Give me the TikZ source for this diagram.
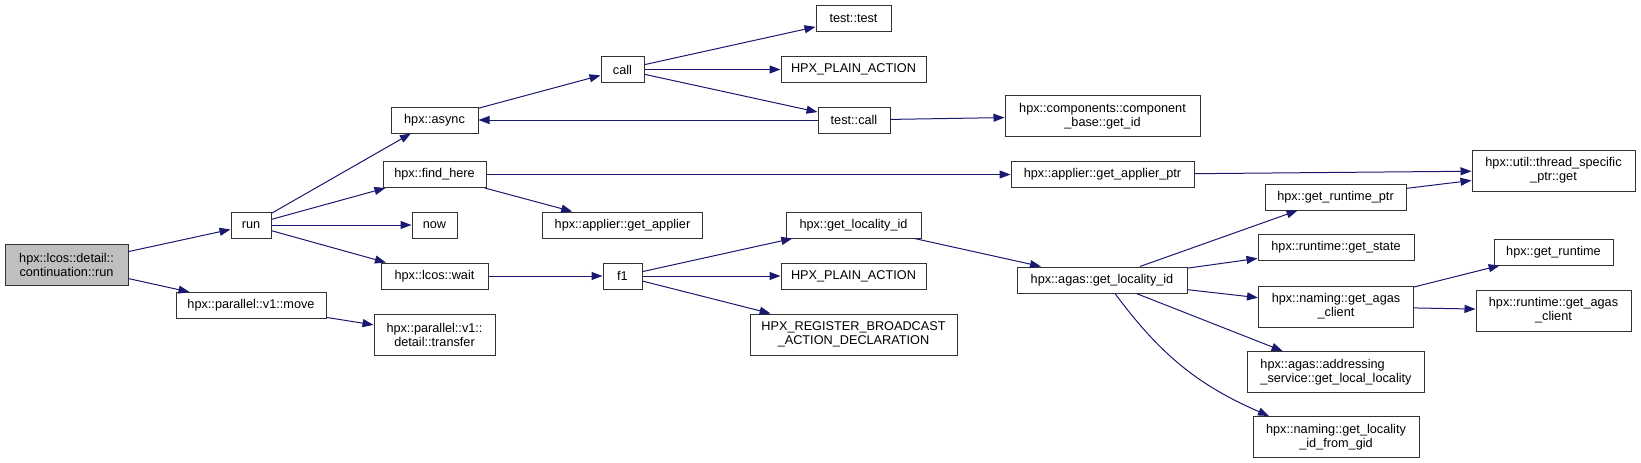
\documentclass[tikz,border=0pt]{standalone}
\usepackage{fontspec}
\setmainfont{Liberation Sans}
\usetikzlibrary{arrows.meta}
\definecolor{DoxEdge}{HTML}{191970}
\definecolor{DoxGray}{HTML}{BFBFBF}
\definecolor{DoxLine}{HTML}{333333}

\begin{document}
\begin{tikzpicture}[x=1pt,y=-1pt,>={Triangle[length=11pt,width=8pt]}]
  \tikzstyle{func}=[draw=DoxLine,line width=1pt,fill=white,inner sep=0pt,
    minimum height=26pt,align=center,font=\fontsize{12.7}{14}\selectfont]
  \tikzstyle{func2}=[func,minimum height=41pt]
  \tikzstyle{callarrow}=[->,color=DoxEdge,line width=1pt]
  \useasboundingbox (0,0) rectangle (1641,463);
  % caller and first level
  \node[func2,fill=DoxGray,minimum width=123pt] (cont) at (66.5,265) {hpx::lcos::detail::\\continuation::run};
  \node[func,minimum width=40pt] (run) at (251,225) {run};
  \node[func,minimum width=150pt] (move) at (251,305.5) {hpx::parallel::v1::move};
  \node[func,minimum width=87pt] (async) at (434.5,120) {hpx::async};
  \node[func,minimum width=103pt] (here) at (434.5,174.5) {hpx::find\_here};
  \node[func,minimum width=45pt] (now) at (434.5,225) {now};
  \node[func,minimum width=107pt] (wait) at (434.5,276) {hpx::lcos::wait};
  \node[func2,minimum width=121pt] (transfer) at (434.5,334.5) {hpx::parallel::v1::\\detail::transfer};
  % middle columns
  \node[func,minimum width=43pt] (call) at (622.5,69.5) {call};
  \node[func,minimum width=160pt] (applier) at (622.5,225) {hpx::applier::get\_applier};
  \node[func,minimum width=39pt] (f1) at (622.5,276) {f1};
  \node[func,minimum width=75pt] (ttest) at (853.5,18.5) {test::test};
  \node[func,minimum width=145pt] (plainA) at (853.5,69.5) {HPX\_PLAIN\_ACTION};
  \node[func,minimum width=72pt] (tcall) at (854,120) {test::call};
  \node[func,minimum width=135pt] (locid) at (853.5,225) {hpx::get\_locality\_id};
  \node[func,minimum width=145pt] (plainB) at (853.5,276) {HPX\_PLAIN\_ACTION};
  \node[func2,minimum width=207pt] (bcast) at (853.5,334.5) {HPX\_REGISTER\_BROADCAST\\\_ACTION\_DECLARATION};
  \node[func2,minimum width=195pt] (getid) at (1102.5,116) {hpx::components::component\\\_base::get\_id};
  \node[func,minimum width=183pt] (applierptr) at (1102.5,174.5) {hpx::applier::get\_applier\_ptr};
  \node[func,minimum width=170pt] (agasloc) at (1102,280) {hpx::agas::get\_locality\_id};
  % right columns
  \node[func,minimum width=141pt] (rtptr) at (1335.5,197) {hpx::get\_runtime\_ptr};
  \node[func,minimum width=156pt] (state) at (1336,247.5) {hpx::runtime::get\_state};
  \node[func2,minimum width=155pt] (agasclient) at (1336,306.5) {hpx::naming::get\_agas\\\_client};
  \node[func2,minimum width=177pt,align=left] (localloc) at (1336,372) {hpx::agas::addressing\\\_service::get\_local\_locality};
  \node[func2,minimum width=166pt] (fromgid) at (1336,437) {hpx::naming::get\_locality\\\_id\_from\_gid};
  \node[func2,minimum width=163pt] (tsptr) at (1553.5,170.5) {hpx::util::thread\_specific\\\_ptr::get};
  \node[func,minimum width=119pt] (runtime) at (1553.5,252) {hpx::get\_runtime};
  \node[func2,minimum width=155pt] (rtclient) at (1553.5,310.5) {hpx::runtime::get\_agas\\\_client};
  % calls
  \draw[callarrow] (cont) -- (run);
  \draw[callarrow] (cont) -- (move);
  \draw[callarrow] (run) -- (async);
  \draw[callarrow] (run) -- (here);
  \draw[callarrow] (run) -- (now);
  \draw[callarrow] (run) -- (wait);
  \draw[callarrow] (move) -- (transfer);
  \draw[callarrow] (async) -- (call);
  \draw[callarrow] (here) -- (applierptr);
  \draw[callarrow] (here) -- (applier);
  \draw[callarrow] (wait) -- (f1);
  \draw[callarrow] (call) -- (ttest);
  \draw[callarrow] (call) -- (plainA);
  \draw[callarrow] (call) -- (tcall);
  \draw[callarrow] (tcall) -- (async);
  \draw[callarrow] (tcall) -- (getid);
  \draw[callarrow] (f1) -- (locid);
  \draw[callarrow] (f1) -- (plainB);
  \draw[callarrow] (f1) -- (bcast);
  \draw[callarrow] (locid) -- (agasloc);
  \draw[callarrow] (applierptr) -- (tsptr);
  \draw[callarrow] (rtptr) -- (tsptr);
  \draw[callarrow] (agasloc) -- (rtptr);
  \draw[callarrow] (agasloc) -- (state);
  \draw[callarrow] (agasloc) -- (agasclient);
  \draw[callarrow] (agasloc) -- (localloc);
  \draw[callarrow] ([xshift=13pt]agasloc.south) to[bend right=15] ([xshift=-67pt]fromgid.north);
  \draw[callarrow] (agasclient) -- (runtime);
  \draw[callarrow] (agasclient) -- (rtclient);
\end{tikzpicture}
\end{document}
